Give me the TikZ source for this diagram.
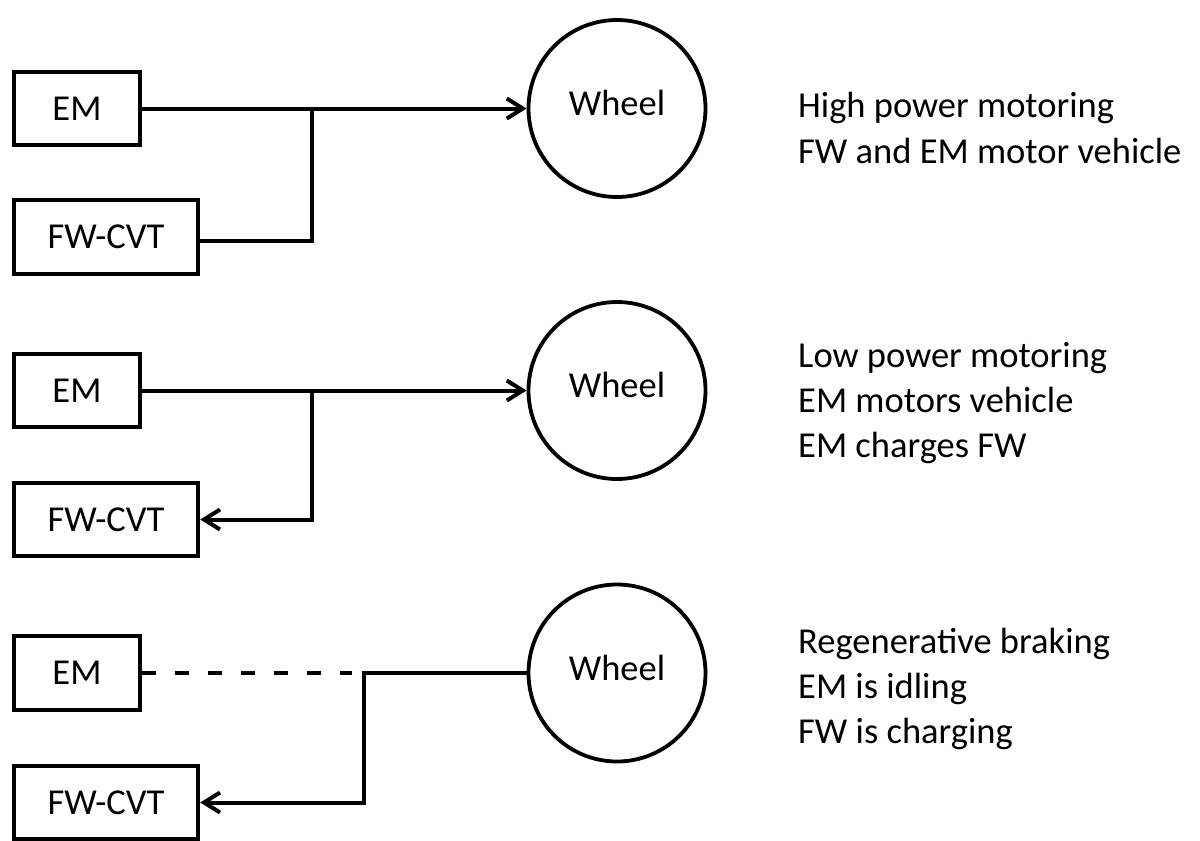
\documentclass[tikz,border=0pt]{standalone}
\usepackage{fontspec}
\setmainfont{Carlito}
\usetikzlibrary{arrows.meta}
\begin{document}
\begin{tikzpicture}[x=1pt,y=-1pt,
  txt/.style={font=\fontsize{36.5}{44}\selectfont},
  blockbox/.style={draw, line width=4pt, minimum height=73.5pt, inner sep=0pt,
    text height=23pt, text depth=0pt, txt},
  embox/.style={blockbox, minimum width=126.5pt},
  fwbox/.style={blockbox, minimum width=184.5pt},
  wheelnode/.style={draw, circle, line width=3.8pt, minimum size=177pt, inner sep=0pt,
    text height=24pt, text depth=10pt, txt},
  desc/.style={anchor=base west, inner sep=0pt, txt},
  conn/.style={line width=4pt, line join=miter},
  arr/.style={conn, -{Straight Barb[length=16pt,width=20pt]}},
  dashconn/.style={conn, dash pattern=on 14pt off 19pt}
]
\useasboundingbox (0,0) rectangle (1200,841);

% ---- top section ----
\node[embox] (em1) at (77,108.5) {EM};
\node[fwbox] (fw1) at (106,237) {FW-CVT};
\node[wheelnode] (w1) at (617,108.5) {Wheel};
\coordinate (j1) at (312,108.5);
\draw[arr] (em1.east) -- (w1.west);
\draw[conn] ([yshift=-4pt]fw1.east) -| (j1);
\node[desc] (t1a) at (798,117) {High power motoring};
\node[desc] (t1b) at (798,163) {FW and EM motor vehicle};

% ---- middle section ----
\node[embox] (em2) at (77,390.5) {EM};
\node[fwbox] (fw2) at (106,519.5) {FW-CVT};
\node[wheelnode] (w2) at (617,390.5) {Wheel};
\coordinate (j2) at (312,390.5);
\draw[arr] (em2.east) -- (w2.west);
\draw[arr] (j2) |- (fw2.east);
\node[desc] (t2a) at (798,367) {Low power motoring};
\node[desc] (t2b) at (798,412) {EM motors vehicle};
\node[desc] (t2c) at (798,457) {EM charges FW};

% ---- bottom section ----
\node[embox] (em3) at (77,673) {EM};
\node[fwbox] (fw3) at (106,802.5) {FW-CVT};
\node[wheelnode] (w3) at (617,673) {Wheel};
\coordinate (d3) at (352,673);
\coordinate (j3) at (364,673);
\draw[dashconn] (em3.east) -- (d3);
\draw[arr] (w3.west) -- (j3) |- (fw3.east);
\node[desc] (t3a) at (798,653) {Regenerative braking};
\node[desc] (t3b) at (798,698) {EM is idling};
\node[desc] (t3c) at (798,743) {FW is charging};
\end{tikzpicture}
\end{document}
